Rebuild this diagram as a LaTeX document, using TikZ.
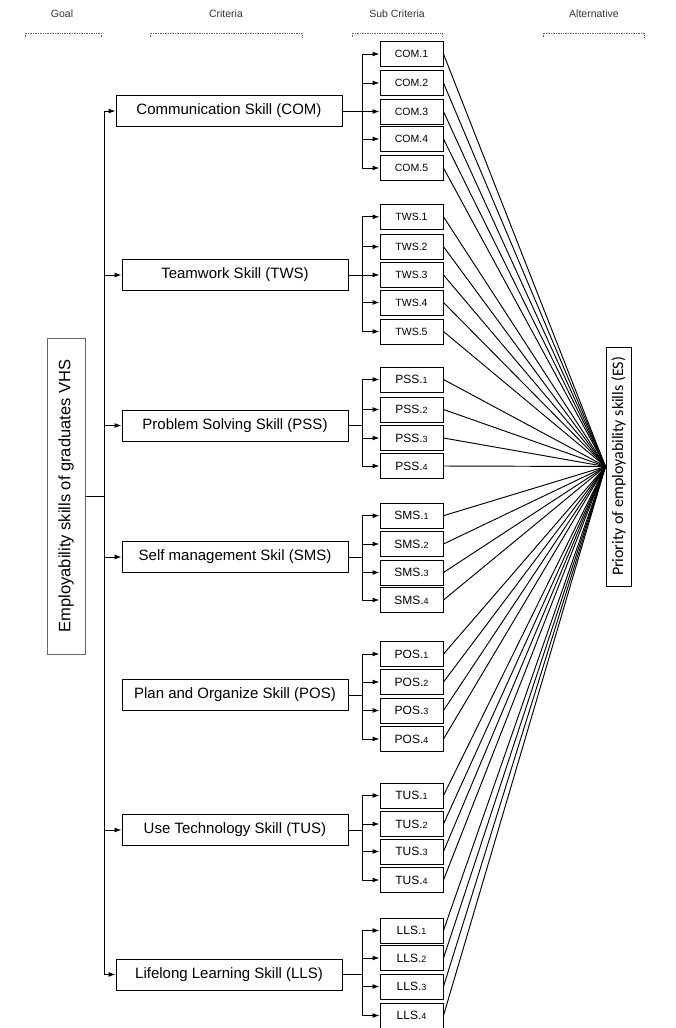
\documentclass[tikz,border=0pt]{standalone}
\usepackage{fontspec}
\setmainfont{Liberation Sans}
\newfontfamily\calfont{Carlito}
\usetikzlibrary{arrows.meta}
\newcommand\smd[1]{{\fontsize{9}{10}\selectfont #1}}
\newcommand\grp[2]{%
  \draw[ln] (#1.east) -- (#1.east -| bus);
  \draw[ln] (#11.west -| bus) -- (#1#2.west -| bus);
  \foreach \i in {1,...,#2} {\draw[arr] (#1\i.west -| bus) -- (#1\i.west); \draw[ln] (#1\i.east) -- (ES.west);}
}
\begin{document}
\begin{tikzpicture}[x=1pt,y=-1pt,
  crit/.style={draw, line width=1pt, minimum width=226pt, minimum height=31pt, inner sep=0pt, font=\fontsize{15}{18}\selectfont},
  sub/.style={draw, line width=1pt, minimum width=63pt, minimum height=25pt, inner sep=0pt, font=\fontsize{10.5}{12}\selectfont},
  subb/.style={sub, font=\fontsize{12}{14}\selectfont},
  arr/.style={-{Latex[length=7pt,width=5pt]}, line width=1pt},
  ln/.style={line width=0.95pt},
  hdr/.style={font=\fontsize{10.5}{12}\selectfont, text=black!80},
  brk/.style={draw=black!60, densely dotted, line width=0.7pt}]
\useasboundingbox (0,0) rectangle (675,1028);
% headers
\node[hdr] (hG) at (62,14) {Goal};
\node[hdr] (hC) at (226,14) {Criteria};
\node[hdr] (hS) at (397,14) {Sub Criteria};
\node[hdr] (hA) at (594,14) {Alternative};
\draw[brk] (25,37) -- (25,33) -- (101,33) -- (101,37);
\draw[brk] (150,37) -- (150,33) -- (302,33) -- (302,37);
\draw[brk] (352,37) -- (352,33) -- (442,33) -- (442,37);
\draw[brk] (543,37) -- (543,33) -- (644,33) -- (644,37);
% goal and alternative
\node[draw=black!60, line width=1pt, minimum width=38pt, minimum height=316pt, inner sep=0pt] (G) at (66,496) {\rotatebox{90}{\fontsize{16.5}{19}\selectfont Employability skills of graduates VHS}};
\node[draw, line width=1pt, minimum width=25pt, minimum height=239pt, inner sep=0pt] (ES) at (618.5,466.5) {\rotatebox{90}{\calfont\fontsize{16}{18}\selectfont Priority of employability skills (ES)}};
\coordinate (trunk) at (104,0);
\coordinate (bus) at (362,0);
% criteria
\node[crit] (COM) at (229,111) {Communication Skill (COM)};
\node[crit] (TWS) at (235,275) {Teamwork Skill (TWS)};
\node[crit] (PSS) at (235,425.5) {Problem Solving Skill (PSS)};
\node[crit] (SMS) at (235,557) {Self management Skil (SMS)};
\node[crit] (POS) at (235,695) {Plan and Organize Skill (POS)};
\node[crit] (TUS) at (235,830) {Use Technology Skill (TUS)};
\node[crit] (LLS) at (229,974.5) {Lifelong Learning Skill (LLS)};
% sub criteria
\foreach \y [count=\i] in {54,83,111.5,139,168} {\node[sub] (COM\i) at (411.5,\y) {COM.\i};}
\foreach \y [count=\i] in {216.8,246.7,275,302.5,331.5} {\node[sub] (TWS\i) at (411.5,\y) {TWS.\i};}
\foreach \y [count=\i] in {379.5,409.5,438,466} {\node[subb] (PSS\i) at (411.5,\y) {PSS.\smd{\i}};}
\foreach \y [count=\i] in {515.7,544,572.5,600} {\node[subb] (SMS\i) at (411.5,\y) {SMS.\smd{\i}};}
\foreach \y [count=\i] in {654,682,710.5,739} {\node[subb] (POS\i) at (411.5,\y) {POS.\smd{\i}};}
\foreach \y [count=\i] in {795.5,824,851.5,880} {\node[subb] (TUS\i) at (411.5,\y) {TUS.\smd{\i}};}
\foreach \y [count=\i] in {930.5,958,986.5,1015.5} {\node[subb] (LLS\i) at (411.5,\y) {LLS.\smd{\i}};}
% goal trunk
\draw[ln] (COM.west -| trunk) -- (LLS.west -| trunk);
\draw[ln] (G.east) -- (G.east -| trunk);
\foreach \c in {COM,TWS,PSS,SMS,TUS,LLS} {\draw[arr] (\c.west -| trunk) -- (\c.west);}
% groups
\grp{COM}{5}
\grp{TWS}{5}
\grp{PSS}{4}
\grp{SMS}{4}
\grp{POS}{4}
\grp{TUS}{4}
\grp{LLS}{4}
\end{tikzpicture}
\end{document}
